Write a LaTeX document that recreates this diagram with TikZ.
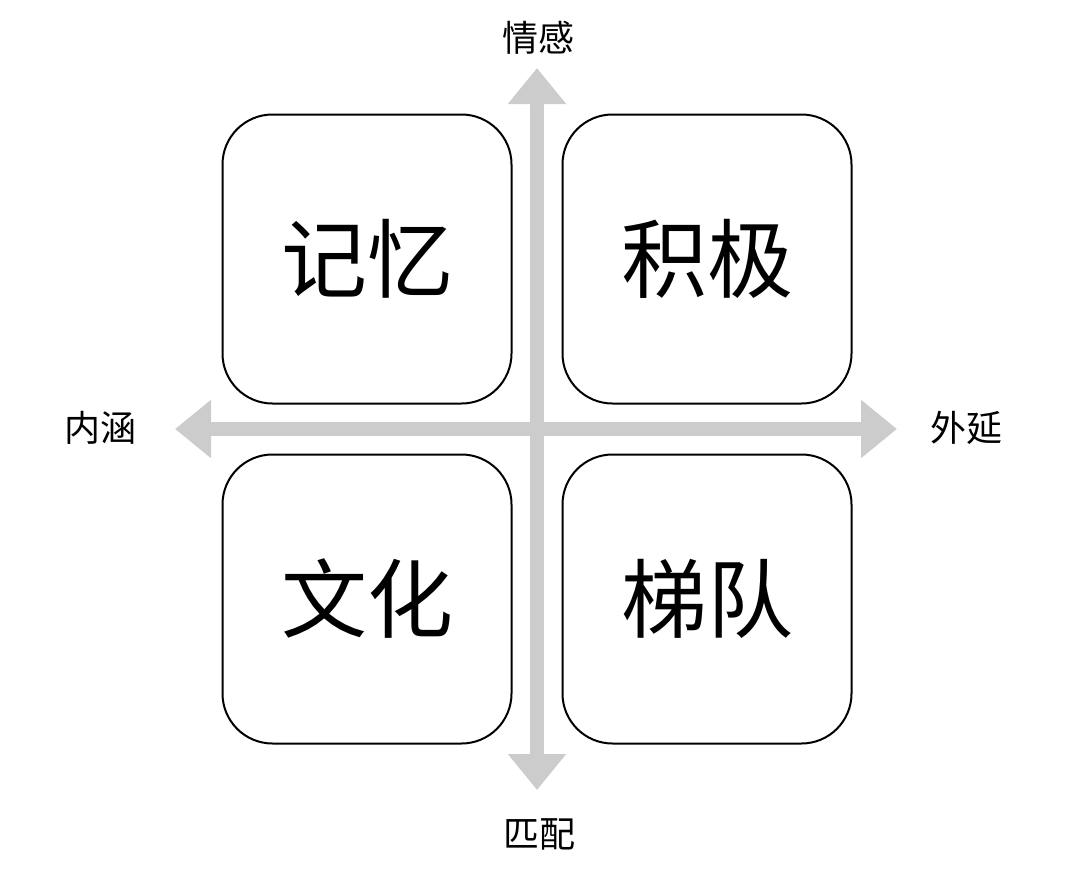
\documentclass[tikz,border=0pt]{standalone}
\usepackage{fontspec}
\setmainfont{Noto Sans CJK SC}
\usetikzlibrary{arrows.meta}

\begin{document}
\begin{tikzpicture}[
	x=1pt, y=-1pt,
	quad/.style={
		rectangle,
		draw=black,
		line width=2pt,
		align=center,
		rounded corners=50pt,
		fill=white,
		minimum height=289pt,
		minimum width=289pt,
		font=\fontsize{86}{86}\selectfont
	},
	axis/.style={
		draw=gray!40,
		line width=14pt,
		-{Triangle[length=36pt,width=56pt]}
	},
	lbl/.style={
		align=center,
		inner sep=0pt,
		font=\fontsize{36}{36}\selectfont
	},
]

\useasboundingbox (0,0) rectangle (1073,878);

\node[lbl] (up) at (538, 38) {情感};
\node[lbl] (down) at (539, 834) {匹配};
\node[lbl] (left) at (100, 428) {内涵};
\node[lbl] (right) at (966, 428) {外延};

\coordinate (c) at (537, 429);
\coordinate (cu) at (537, 68);
\coordinate (cd) at (537, 790);
\coordinate (cl) at (175, 429);
\coordinate (cr) at (897, 429);

\draw[axis] (c) -- (cu);
\draw[axis] (c) -- (cd);
\draw[axis] (c) -- (cl);
\draw[axis] (c) -- (cr);

\node[quad] (mem) at (367, 259) {记忆};
\node[quad] (pos) at (707, 259) {积极};
\node[quad] (cul) at (367, 599) {文化};
\node[quad] (lad) at (707, 599) {梯队};

\end{tikzpicture}
\end{document}
